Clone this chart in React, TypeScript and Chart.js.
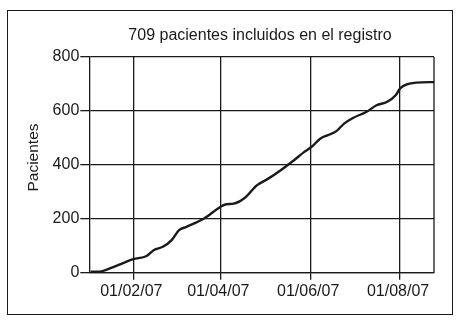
import React, { useEffect, useRef } from "react";
import { Chart, registerables } from "chart.js";

Chart.register(...registerables);

// Day numbers counted from 01/01/07 (day 0)
const days = [2, 8, 15, 22, 31, 40, 45, 51, 57, 62, 67, 79, 90, 94, 99, 106, 115, 122, 131, 140, 147, 152, 158, 163, 169, 174, 180, 189, 196, 203, 209, 212, 215, 223, 235];
const patients = [4, 4, 16, 31, 50, 62, 84, 96, 121, 158, 170, 201, 244, 254, 256, 275, 325, 347, 380, 417, 448, 467, 498, 510, 526, 553, 574, 596, 621, 633, 658, 683, 695, 705, 707];
const xTickDays = [31, 90, 151, 212];
const xTickLabels = ["01/02/07", "01/04/07", "01/06/07", "01/08/07"];
const yTicks = [0, 200, 400, 600, 800];
const titleText = "709 pacientes incluidos en el registro";
const yTitleText = "Pacientes";

const FONT = "'Liberation Sans', Arial, Helvetica, sans-serif";
const INK = "#1a1a1a";

export default function App() {
  const ref = useRef<HTMLCanvasElement | null>(null);
  useEffect(() => {
    if (!ref.current) return;
    const textPlugin = {
      id: "texts",
      afterDraw(chart: any) {
        const ctx = chart.ctx;
        const a = chart.chartArea;
        ctx.save();
        ctx.strokeStyle = INK;
        ctx.lineWidth = 1.3;
        ctx.beginPath();
        ctx.moveTo(a.right, a.top);
        ctx.lineTo(a.right, a.bottom);
        ctx.stroke();
        ctx.fillStyle = INK;
        ctx.font = `16px ${FONT}`;
        ctx.textAlign = "center";
        ctx.textBaseline = "alphabetic";
        ctx.fillText(titleText, 260, 40);
        ctx.font = `15.5px ${FONT}`;
        ctx.translate(34, 157.5);
        ctx.rotate(-Math.PI / 2);
        ctx.textBaseline = "middle";
        ctx.fillText(yTitleText, 0, 0);
        ctx.restore();
      },
    };
    const chart = new Chart(ref.current, {
      type: "line",
      data: {
        datasets: [
          {
            data: days.map((d, i) => ({ x: d, y: patients[i] })),
            borderColor: INK,
            borderWidth: 2.4,
            pointRadius: 0,
            tension: 0.4,
            cubicInterpolationMode: "monotone",
            fill: false,
          },
        ],
      },
      options: {
        animation: false,
        responsive: false,
        maintainAspectRatio: false,
        layout: { padding: { left: 0, right: 31, top: 57, bottom: 0 } },
        plugins: { legend: { display: false }, title: { display: false }, tooltip: { enabled: false } },
        scales: {
          x: {
            type: "linear",
            min: 1.1,
            max: 235,
            afterBuildTicks: (scale: any) => {
              scale.ticks = xTickDays.map((v) => ({ value: v }));
            },
            afterFit: (scale: any) => {
              scale.height = 53.3;
            },
            grid: { color: INK, lineWidth: 1.3, tickLength: 7, drawOnChartArea: true },
            border: { color: INK, width: 1.3 },
            ticks: {
              color: INK,
              font: { family: FONT, size: 16 },
              padding: 2,
              labelOffset: -2,
              maxRotation: 0,
              autoSkip: false,
              callback: (v: any) => {
                const i = xTickDays.indexOf(Number(v));
                return i >= 0 ? xTickLabels[i] : "";
              },
            },
          },
          y: {
            min: 0,
            max: 800,
            afterBuildTicks: (scale: any) => {
              scale.ticks = yTicks.map((v) => ({ value: v }));
            },
            afterFit: (scale: any) => {
              scale.width = 89.3;
            },
            grid: { color: INK, lineWidth: 1.3, tickLength: 9 },
            border: { color: INK, width: 1.3 },
            ticks: {
              color: INK,
              font: { family: FONT, size: 16 },
              padding: 1,
            },
          },
        },
      },
      plugins: [textPlugin],
    } as any);
    return () => chart.destroy();
  }, []);
  return (
    <div style={{ position: "fixed", left: 0, top: 0, width: 465, height: 326, background: "#fff" }}>
      <canvas ref={ref} width={465} height={326} style={{ position: "absolute", left: 0, top: 0, width: 465, height: 326 }} />
      <div
        style={{
          position: "absolute",
          left: 7,
          top: 10,
          width: 446,
          height: 305,
          border: `1.5px solid ${INK}`,
          boxSizing: "border-box",
          pointerEvents: "none",
        }}
      />
    </div>
  );
}
